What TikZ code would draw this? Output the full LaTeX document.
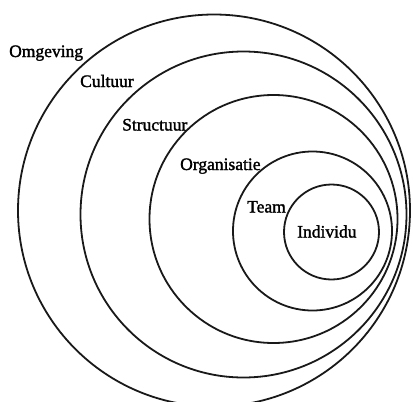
\documentclass[tikz,border=0pt]{standalone}
\usepackage{fontspec}
\setmainfont{Liberation Serif}
\newfontfamily\labelfont[FakeBold=1.6]{Liberation Serif}
\begin{document}
\begin{tikzpicture}[x=1pt,y=-1pt,
  ring/.style={draw=black!90,line width=1.8pt},
  lbl/.style={anchor=base west,inner sep=0pt,font=\labelfont\fontsize{17.5}{20}\selectfont}]
\useasboundingbox (0,0) rectangle (413,402);
\clip (0,0) rectangle (413,402);
% nested rings, all touching near the right edge
\coordinate (cOmg) at (214,210.5);
\coordinate (cCul) at (243.5,214.5);
\coordinate (cStr) at (273.5,219);
\coordinate (cTea) at (312.5,231);
\coordinate (cInd) at (331.5,232);
\draw[ring] (cOmg) circle[radius=196];
\draw[ring] (cCul) circle[radius=163];
\draw[ring] (cStr) circle[radius=124];
\draw[ring] (cTea) circle[radius=79.5];
\draw[ring] (cInd) circle[radius=47.5];
% labels
\node[lbl] (omg) at (9,57) {Omgeving};
\node[lbl] (cul) at (80,87) {Cultuur};
\node[lbl] (str) at (122,130.5) {Structuur};
\node[lbl] (org) at (180,170) {Organisatie};
\node[lbl] (tea) at (247,212.5) {Team};
\node[lbl] (ind) at (297,237.5) {Individu};
\end{tikzpicture}
\end{document}
